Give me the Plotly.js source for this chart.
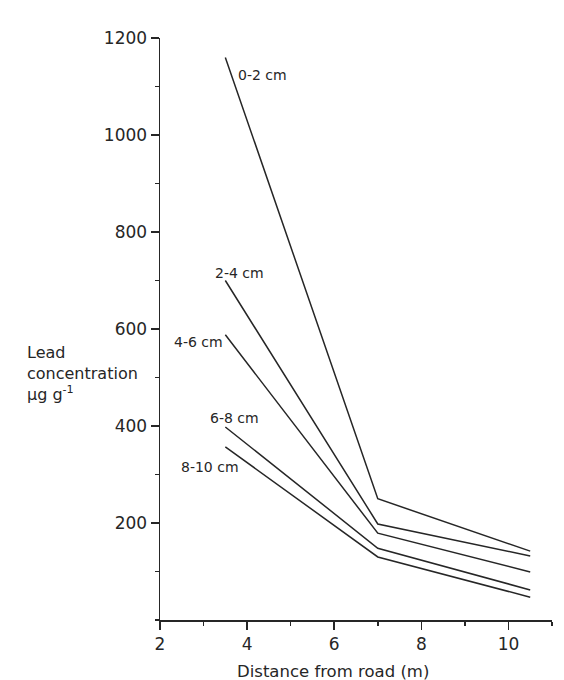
<!DOCTYPE html>
<html><head><meta charset="utf-8">
<script src="https://cdn.plot.ly/plotly-3.0.1.min.js"></script>
<style>html,body{margin:0;padding:0;background:#fff;}#chart{width:564px;height:680px;}</style>
</head><body><div id="chart"></div>
<script>
// Data
const distance = [3.5, 7, 10.5];
const depthLabels = ["0-2 cm", "2-4 cm", "4-6 cm", "6-8 cm", "8-10 cm"];
const lead_0_2  = [1160, 250, 142];
const lead_2_4  = [700, 198, 132];
const lead_4_6  = [588, 179, 99];
const lead_6_8  = [398, 148, 62];
const lead_8_10 = [357, 130, 47];
const xTickVals = [2, 4, 6, 8, 10];
const yTickVals = [200, 400, 600, 800, 1000, 1200];
const xTitle = "Distance from road (m)";
const yTitle = "Lead<br>concentration<br>µg g<sup>-1</sup>";

const series = [lead_0_2, lead_2_4, lead_4_6, lead_6_8, lead_8_10];
const ink = '#262626';
const font = 'DejaVu Sans, sans-serif';

const traces = series.map((ys, i) => ({
  x: distance, y: ys, type: 'scatter', mode: 'lines',
  name: depthLabels[i], line: {color: ink, width: 1.5}, showlegend: false, hoverinfo: 'skip'
}));

// label placement offsets (relative to the first point of each series)
const labelOffsets = [[0.86, -36], [0.33, 15], [-0.61, -15], [0.22, 18], [-0.35, -42]];
const annotations = series.map((ys, i) => ({
  x: distance[0] + labelOffsets[i][0], y: ys[0] + labelOffsets[i][1],
  xref: 'x', yref: 'y', text: depthLabels[i], showarrow: false,
  font: {family: font, size: 14, color: ink}, xanchor: 'center', yanchor: 'middle'
}));
annotations.push({
  x: 0.441, y: -0.088, xref: 'paper', yref: 'paper', text: xTitle, showarrow: false,
  font: {family: font, size: 16.5, color: ink}, xanchor: 'center', yanchor: 'middle'
});
annotations.push({
  x: -0.344, y: 0.423, xref: 'paper', yref: 'paper', text: yTitle, showarrow: false,
  align: 'left', font: {family: font, size: 16, color: ink}, xanchor: 'left', yanchor: 'middle'
});

const layout = {
  width: 564, height: 680,
  margin: {l: 160, r: 12, t: 38, b: 60},
  paper_bgcolor: '#fff', plot_bgcolor: '#fff',
  font: {family: font, color: ink},
  xaxis: {
    range: [2, 11], tickvals: xTickVals, ticks: 'outside', ticklen: 8, tickwidth: 1.5, tickcolor: ink,
    showline: true, linecolor: ink, linewidth: 1.5, showgrid: false, zeroline: false,
    tickfont: {family: font, size: 17, color: ink},
    minor: {dtick: 1, tick0: 0, ticks: 'outside', ticklen: 4, tickwidth: 1.5, tickcolor: ink, showgrid: false}
  },
  yaxis: {
    range: [0, 1200], tickvals: yTickVals, ticks: 'outside', ticklen: 8, tickwidth: 1.5, tickcolor: ink,
    showline: true, linecolor: ink, linewidth: 1.5, showgrid: false, zeroline: false,
    tickfont: {family: font, size: 17, color: ink},
    minor: {dtick: 100, tick0: 0, ticks: 'outside', ticklen: 4, tickwidth: 1.5, tickcolor: ink, showgrid: false}
  },
  annotations: annotations
};
Plotly.newPlot('chart', traces, layout, {staticPlot: true, displayModeBar: false});
</script></body></html>
